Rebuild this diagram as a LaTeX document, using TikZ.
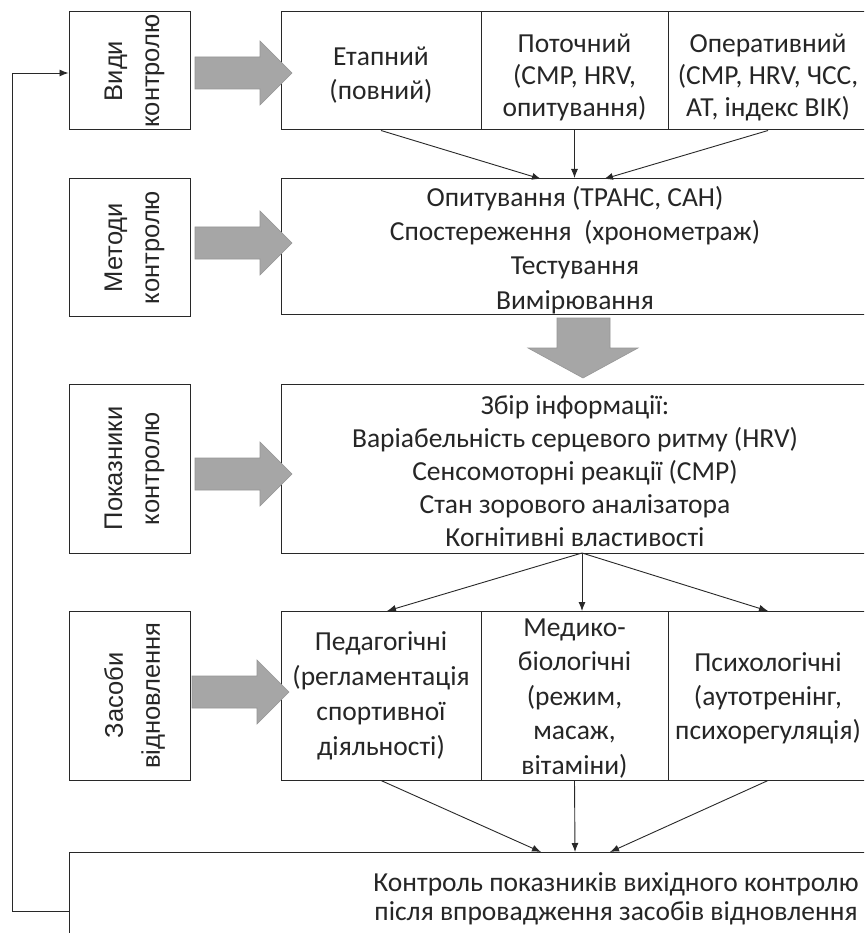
\documentclass[tikz,border=0pt]{standalone}
\usepackage{fontspec}
\setmainfont{Carlito}
\newfontfamily\arialf{Liberation Sans}
\usetikzlibrary{arrows.meta}
\definecolor{arrowgray}{RGB}{166,166,166}
\definecolor{arrowedge}{RGB}{150,150,150}
\definecolor{linegray}{RGB}{40,40,40}
\begin{document}
\begin{tikzpicture}[x=1pt,y=-1pt,
  cell/.style={draw=linegray, line width=1pt, inner sep=0pt},
  txt/.style={inner sep=0pt, align=center, text=black!85},
  fs/.style={font=\fontsize{27.5}{#1}\selectfont},
  side/.style={draw=linegray, line width=1pt, rotate=90, inner sep=0pt},
  sidetxt/.style={rotate=90, inner sep=0pt, align=center,
    font=\arialf\fontsize{25.5}{37}\selectfont, text=black!85},
  conn/.style={draw=linegray, line width=0.9pt, -{Latex[length=9pt,width=7pt]}},
  grayarrow/.style={fill=arrowgray, draw=arrowedge, line width=0.6pt}]
\useasboundingbox (0,0) rectangle (864,933);
\clip (0,0) rectangle (864,933);
\fill[white] (0,0) rectangle (864,933);

% left side boxes
\node[side, minimum width=118pt, minimum height=121pt] (vydy) at (129.5,71) {};
\node[side, minimum width=137pt, minimum height=121pt] (metody) at (129.5,247.5) {};
\node[side, minimum width=169pt, minimum height=121pt] (pokaz) at (129.5,468.5) {};
\node[side, minimum width=169pt, minimum height=121pt] (zasoby) at (129.5,695.5) {};
\node[sidetxt] (vydyT) at (134.5,71) {Види\\контролю};
\node[sidetxt] (metodyT) at (134.5,247.5) {Методи\\контролю};
\node[sidetxt] (pokazT) at (134.5,468.5) {Показники\\контролю};
\node[sidetxt] (zasobyT) at (134.5,695.5) {Засоби\\відновлення};

% row 1
\node[cell, minimum width=200pt, minimum height=118pt] (etap) at (381,71) {};
\node[cell, minimum width=187pt, minimum height=118pt] (potoch) at (574.5,71) {};
\node[cell, minimum width=200pt, minimum height=118pt] (oper) at (768,71) {};
\node[txt, fs=34] (etapT) at (381,75) {Етапний\\(повний)};
\node[txt, fs=32] (potochT) at (574.5,77) {Поточний\\(СМР, HRV,\\опитування)};
\node[txt, fs=32] (operT) at (768,77) {Оперативний\\(СМР, HRV, ЧСС,\\АТ, індекс ВІК)};

% row 2
\node[cell, minimum width=588pt, minimum height=136pt] (metod) at (575,246.5) {};
\node[txt, fs=34.3] (metodT) at (575,250)
  {Опитування (ТРАНС, САН)\\Спостереження\ \ (хронометраж)\\Тестування\\Вимірювання};

% row 3
\node[cell, minimum width=588pt, minimum height=169pt] (info) at (575,468.5) {};
\node[txt, fs=33] (infoT) at (575,471.5)
  {Збір інформації:\\Варіабельність серцевого ритму (HRV)\\Сенсомоторні реакції (СМР)\\Стан зорового аналізатора\\Когнітивні властивості};

% row 4
\node[cell, minimum width=200pt, minimum height=169pt] (ped) at (381,695.5) {};
\node[cell, minimum width=187pt, minimum height=169pt] (med) at (574.5,695.5) {};
\node[cell, minimum width=200pt, minimum height=169pt] (psy) at (768,695.5) {};
\node[txt, fs=35] (pedT) at (381,695.5)
  {Педагогічні\\(регламентація\\спортивної\\діяльності)};
\node[txt, fs=34.5] (medT) at (574.5,698.5)
  {Медико-\\біологічні\\(режим,\\масаж,\\вітаміни)};
\node[txt, fs=34] (psyT) at (768,698)
  {Психологічні\\(аутотренінг,\\психорегуляція)};

% bottom
\node[cell, minimum width=1094pt, minimum height=93pt] (kontr) at (616,898.5) {};
\node[txt, fs=29] (kontrT) at (616,899)
  {Контроль показників вихідного контролю\\після впровадження засобів відновлення};

% gray block arrows
\foreach \yc/\xs in {73/195,243/195,474/195,692/192}
  \draw[grayarrow] (\xs,\yc-16) -- (\xs+65,\yc-16) -- (\xs+65,\yc-32) -- (\xs+97,\yc)
    -- (\xs+65,\yc+32) -- (\xs+65,\yc+16) -- (\xs,\yc+16) -- cycle;
\draw[grayarrow] (557,318) -- (610,318) -- (610,348) -- (638,348) -- (583,378)
  -- (528,348) -- (557,348) -- cycle;

% connector end points
\coordinate (m1) at (541,179);
\coordinate (m3) at (604,179);
\coordinate (istart) at (582,553);
\coordinate (r1) at (387,611);
\coordinate (r2) at (582,611);
\coordinate (r3) at (768,611);
\coordinate (b1) at (541,852);
\coordinate (b2) at (575,852);
\coordinate (b3) at (610,852);
\coordinate (fb1) at (12,911);
\coordinate (fb2) at (12,73);

\draw[conn] (etap.south) -- (m1);
\draw[conn] (potoch.south) -- (potoch.south |- metod.north);
\draw[conn] (oper.south) -- (m3);

\draw[conn] (istart) -- (r1);
\draw[conn] (istart) -- (r2);
\draw[conn] (istart) -- (r3);

\draw[conn] (ped.south) -- (b1);
\draw[conn] (med.south) -- (b2);
\draw[conn] (psy.south) -- (b3);

\draw[conn] (kontr.west |- fb1) -- (fb1) -- (fb2) -- (vydy.north |- fb2);
\end{tikzpicture}
\end{document}
